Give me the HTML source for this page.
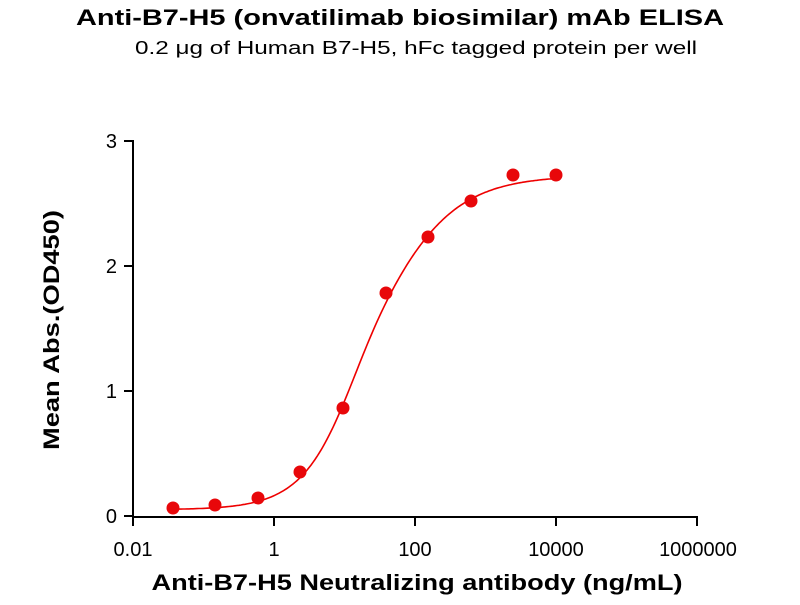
<!DOCTYPE html>
<html><head><style>body{margin:0;background:#fff}</style></head><body>
<svg id="s" width="800" height="600" xmlns="http://www.w3.org/2000/svg" font-family="Liberation Sans, Arial, sans-serif">
<text x="400" y="25" text-anchor="middle" font-size="22" font-weight="bold" textLength="648" lengthAdjust="spacingAndGlyphs">Anti-B7-H5 (onvatilimab biosimilar) mAb ELISA</text>
<text x="416" y="54" text-anchor="middle" font-size="18" textLength="562" lengthAdjust="spacingAndGlyphs">0.2 μg of Human B7-H5, hFc tagged protein per well</text>
<g stroke="#000" stroke-width="2" fill="none">
<line x1="133" y1="140" x2="133" y2="517"/>
<line x1="132" y1="517" x2="698" y2="517"/>
<line x1="124" y1="141" x2="133" y2="141"/>
<line x1="124" y1="266" x2="133" y2="266"/>
<line x1="124" y1="391" x2="133" y2="391"/>
<line x1="124" y1="516" x2="133" y2="516"/>
<line x1="133" y1="517" x2="133" y2="526"/>
<line x1="274" y1="517" x2="274" y2="526"/>
<line x1="415" y1="517" x2="415" y2="526"/>
<line x1="556" y1="517" x2="556" y2="526"/>
<line x1="697" y1="517" x2="697" y2="526"/>
</g>
<g font-size="20" text-anchor="end">
<text x="117" y="148">3</text><text x="117" y="273">2</text><text x="117" y="398">1</text><text x="117" y="523">0</text>
</g>
<g font-size="20" text-anchor="middle">
<text x="133" y="556">0.01</text><text x="274" y="556">1</text><text x="415" y="556">100</text><text x="556" y="556">10000</text><text x="698" y="556">1000000</text>
</g>
<text x="417" y="590" text-anchor="middle" font-size="22" font-weight="bold" textLength="531" lengthAdjust="spacingAndGlyphs">Anti-B7-H5 Neutralizing antibody (ng/mL)</text>
<text transform="translate(59,330) rotate(-90)" text-anchor="middle" font-size="22" font-weight="bold" textLength="240" lengthAdjust="spacingAndGlyphs">Mean Abs.(OD450)</text>
<path id="c" fill="none" stroke="#e00" stroke-width="1.6"/>
<g fill="#e8070a">
<circle cx="173" cy="508" r="6.5"/><circle cx="215" cy="505" r="6.5"/><circle cx="258" cy="498" r="6.5"/><circle cx="300" cy="472" r="6.5"/><circle cx="343" cy="408" r="6.5"/><circle cx="386" cy="293" r="6.5"/><circle cx="428" cy="237" r="6.5"/><circle cx="471" cy="201" r="6.5"/><circle cx="513" cy="175" r="6.5"/><circle cx="556" cy="175" r="6.5"/>
</g>
</svg>
<script>
var d="";for(var x=173;x<=556;x+=2){var s=35+5*Math.tanh((x-370)/40);var v=0.05+2.67/(1+Math.exp(-(x-368)/s));var y=516-v*125.2;d+=(x==173?"M":"L")+x+","+y.toFixed(1);}
document.getElementById("c").setAttribute("d",d);
</script>
</body></html>
